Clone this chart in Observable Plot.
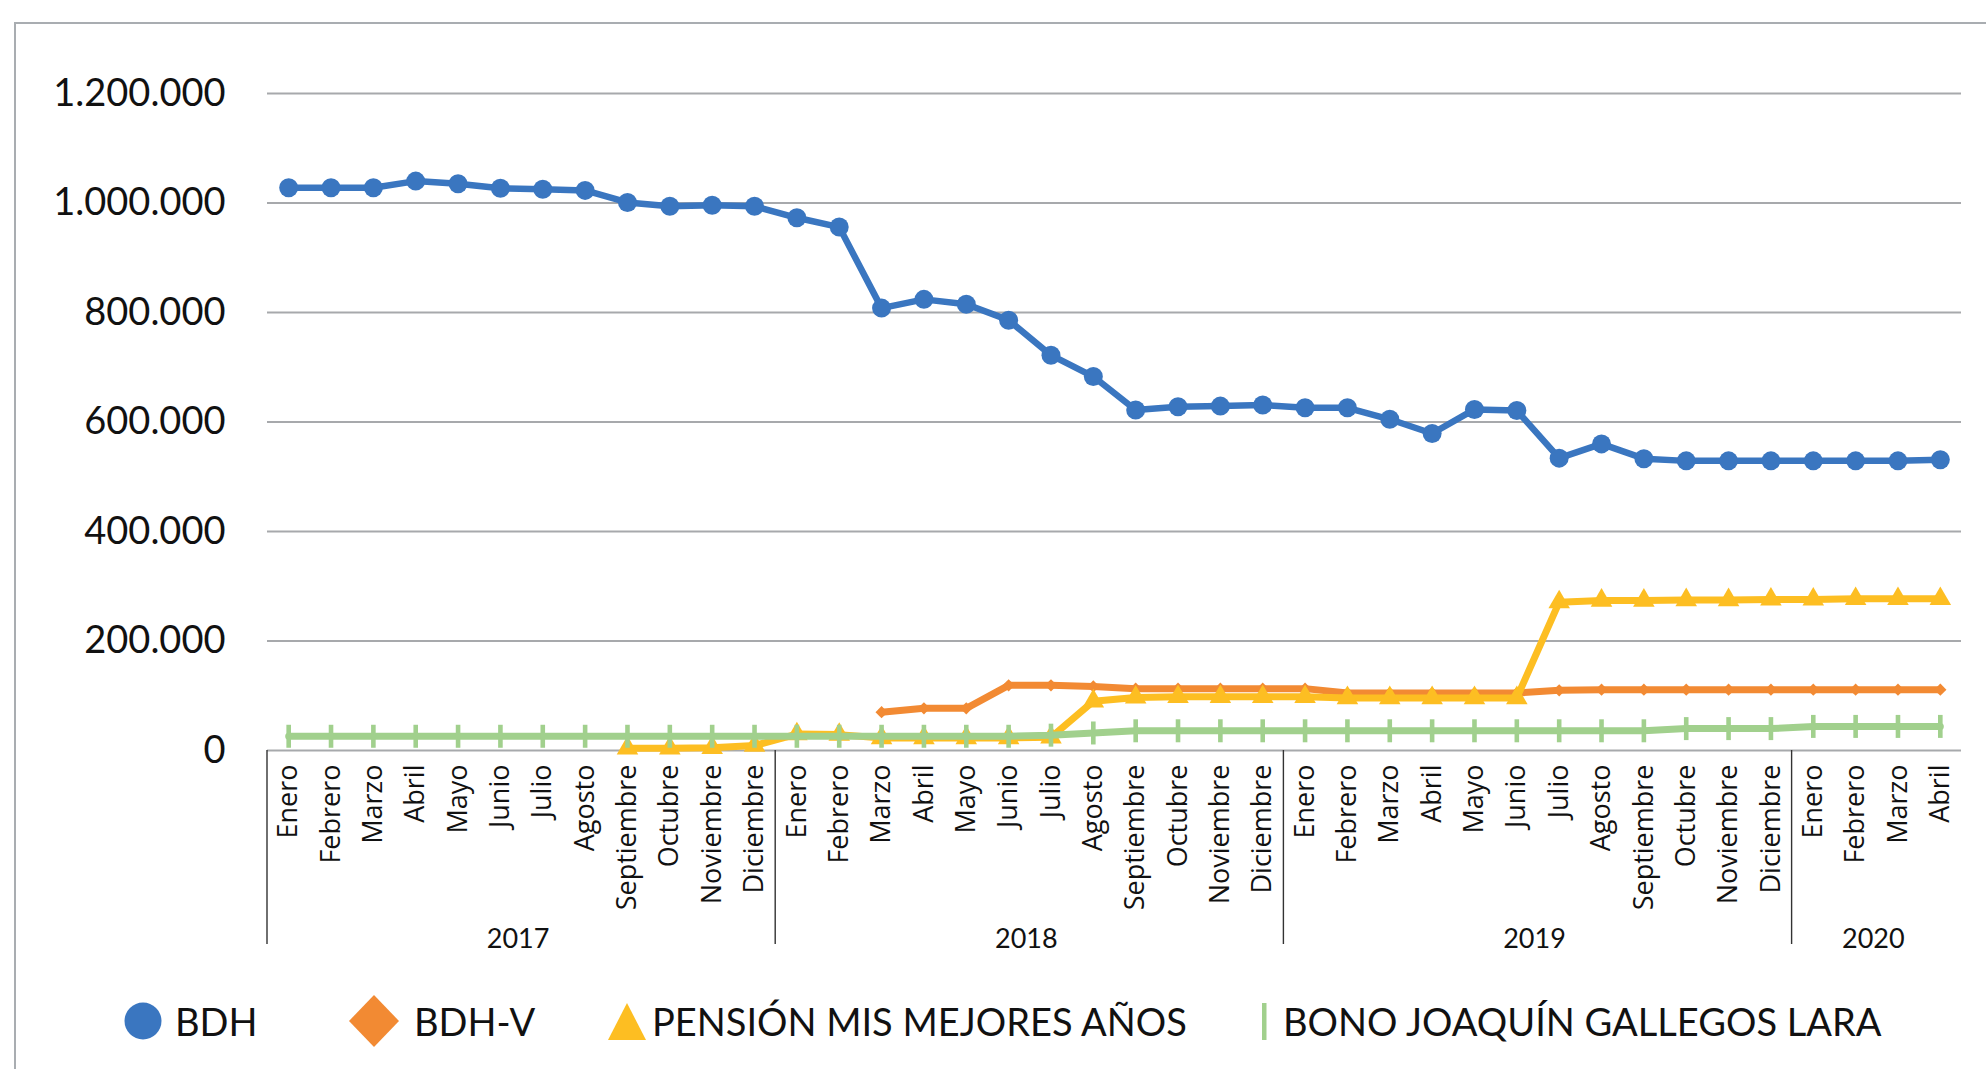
<!DOCTYPE html>
<html><head><meta charset="utf-8">
<script src="https://cdn.jsdelivr.net/npm/d3@7"></script>
<script src="https://cdn.jsdelivr.net/npm/@observablehq/plot@0.6"></script>
<style>
html,body{margin:0;padding:0;background:#fff;overflow:hidden;width:1986px;height:1069px;}
#frame{position:absolute;left:14px;top:22px;width:2200px;height:1300px;border:2px solid #a9adb1;box-sizing:border-box;}
#chart{position:absolute;left:0;top:0;}
#legend{position:absolute;left:0;top:990px;width:1986px;height:62px;font-family:Lato,sans-serif;font-size:38px;color:#111;}
.item{position:absolute;top:0;height:62px;display:flex;align-items:center;white-space:nowrap;}
.icon{position:absolute;top:0;}
</style></head><body>
<div id="frame"></div>
<div id="chart"></div>
<div id="legend"></div>
<script>
// ---- data ----
const years = ["2017", "2018", "2019", "2020"];
const monthCounts = [12, 12, 12, 4];
const monthNames = ["Enero","Febrero","Marzo","Abril","Mayo","Junio","Julio","Agosto","Septiembre","Octubre","Noviembre","Diciembre"];
const seriesNames = ["BDH", "BDH-V", "PENSIÓN MIS MEJORES AÑOS", "BONO JOAQUÍN GALLEGOS LARA"];
const colors = ["#3a76c0", "#f28a33", "#fdbe22", "#a1d08d"];

const bdh = [
  1028000, 1028000, 1028000, 1040000, 1035000, 1027000, 1025000, 1023000, 1001000, 994000, 996000, 994000,
  973000, 956000, 808000, 824000, 815000, 786000, 722000, 683000, 622000, 628000, 629000, 631000,
  626000, 626000, 605000, 579000, 623000, 621000, 534000, 560000, 533000, 529000, 529000, 529000,
  529000, 529000, 529000, 531000
];
const bdhV = [
  null, null, null, null, null, null, null, null, null, null, null, null,
  null, null, 70000, 77000, 77000, 119000, 119000, 117000, 113000, 113000, 113000, 113000,
  113000, 105000, 105000, 105000, 105000, 105000, 110000, 111000, 111000, 111000, 111000, 111000,
  111000, 111000, 111000, 111000
];
const pension = [
  null, null, null, null, null, null, null, null, 4000, 4000, 5000, 9000,
  30000, 29000, 23000, 23000, 23000, 23000, 24000, 90000, 97000, 98000, 98000, 98000,
  98000, 96000, 96000, 96000, 96000, 96000, 271000, 274000, 274000, 275000, 275000, 276000,
  276000, 277000, 277000, 277000
];
const bono = [
  26000, 26000, 26000, 26000, 26000, 26000, 26000, 26000, 26000, 26000, 26000, 26000,
  26000, 26000, 26000, 26000, 26000, 26000, 28000, 32000, 36000, 36000, 36000, 36000,
  36000, 36000, 36000, 36000, 36000, 36000, 36000, 36000, 36000, 40000, 40000, 40000,
  44000, 44000, 44000, 44000
];
const yTicks = [0, 200000, 400000, 600000, 800000, 1000000, 1200000];

// ---- build categories ----
const keys = [], monthOf = {}, yearStart = [], yearEnd = [];
years.forEach((yr, i) => {
  yearStart.push(keys.length);
  for (let m = 0; m < monthCounts[i]; m++) {
    const k = yr + "-" + m;
    keys.push(k);
    monthOf[k] = monthNames[m];
  }
  yearEnd.push(keys.length - 1);
});
const allSeries = [bdh, bdhV, pension, bono];
const rows = allSeries.map(vals => keys.map((k, i) => ({key: k, v: vals[i]})));

const fmt = d3.formatLocale({decimal: ",", thousands: ".", grouping: [3], currency: ["", ""]}).format(",d");

const vbar = {draw(ctx) { const w = 2.3, h = 11.5; ctx.moveTo(-w, -h); ctx.lineTo(w, -h); ctx.lineTo(w, h); ctx.lineTo(-w, h); ctx.closePath(); }};

const chart = Plot.plot({
  width: 1986, height: 960,
  marginLeft: 267, marginRight: 25, marginTop: 93, marginBottom: 210,
  style: {fontFamily: "Lato, sans-serif", background: "transparent", overflow: "visible", color: "#111"},
  x: {type: "band", domain: keys, padding: 0, round: false},
  y: {domain: [0, 1200000]},
  marks: [
    Plot.gridY(yTicks, {stroke: "#a7a9ac", strokeOpacity: 1, strokeWidth: 2.2}),
    Plot.axisY(yTicks, {tickSize: 0, tickPadding: 42, tickFormat: fmt, fontSize: 38, fill: "#111", label: null}),
    Plot.axisX({tickSize: 0, tickPadding: 14, tickRotate: -90, tickFormat: k => monthOf[k], fontSize: 27, fontFamily: "'Open Sans', sans-serif", fill: "#111", label: null}),
    Plot.line(rows[0], {x: "key", y: "v", stroke: colors[0], strokeWidth: 6.5}),
    Plot.dot(rows[0], {x: "key", y: "v", r: 9.5, fill: colors[0], stroke: null}),
    Plot.line(rows[1], {x: "key", y: "v", stroke: colors[1], strokeWidth: 7}),
    Plot.dot(rows[1], {x: "key", y: "v", r: 5.5, symbol: "diamond2", fill: colors[1], stroke: null}),
    Plot.line(rows[2], {x: "key", y: "v", stroke: colors[2], strokeWidth: 7}),
    Plot.dot(rows[2], {x: "key", y: "v", r: 8, symbol: "triangle", fill: colors[2], stroke: null}),
    Plot.line(rows[3], {x: "key", y: "v", stroke: colors[3], strokeWidth: 7}),
    Plot.dot(rows[3], {x: "key", y: "v", r: 5, symbol: vbar, fill: colors[3], stroke: null})
  ]
});

// year group separators and labels, placed through the chart's own scales
const sx = chart.scale("x"), sy = chart.scale("y");
const svg = d3.select(chart);
const y0 = sy.apply(0);
years.forEach((yr, i) => {
  const x0 = sx.apply(keys[yearStart[i]]);
  const x1 = sx.apply(keys[yearEnd[i]]) + sx.bandwidth;
  svg.append("line").attr("x1", x0).attr("x2", x0).attr("y1", y0).attr("y2", 944)
    .attr("stroke", "#333").attr("stroke-width", 1.4);
  svg.append("text").attr("x", (x0 + x1) / 2 - 3).attr("y", 948).attr("text-anchor", "middle")
    .attr("font-family", "Lato, sans-serif").attr("font-size", 27).attr("fill", "#111").text(yr);
});
document.getElementById("chart").appendChild(chart);

// legend
const legend = d3.select("#legend");
const items = [
  {icon: `<svg width="40" height="62"><circle cx="20" cy="31" r="18.5" fill="${colors[0]}"/></svg>`, iconLeft: 123, textLeft: 175},
  {icon: `<svg width="54" height="62"><path d="M27 5 L52 31 L27 57 L2 31 Z" fill="${colors[1]}"/></svg>`, iconLeft: 347, textLeft: 414},
  {icon: `<svg width="40" height="62"><path d="M20 13 L39 50 L1 50 Z" fill="${colors[2]}"/></svg>`, iconLeft: 607, textLeft: 652},
  {icon: `<svg width="10" height="62"><rect x="3" y="13" width="4.5" height="37" fill="${colors[3]}"/></svg>`, iconLeft: 1259, textLeft: 1283}
];
items.forEach((it, i) => {
  legend.append("div").attr("class", "icon").style("left", it.iconLeft + "px").html(it.icon);
  legend.append("div").attr("class", "item").style("left", it.textLeft + "px").text(seriesNames[i]);
});
</script></body></html>
